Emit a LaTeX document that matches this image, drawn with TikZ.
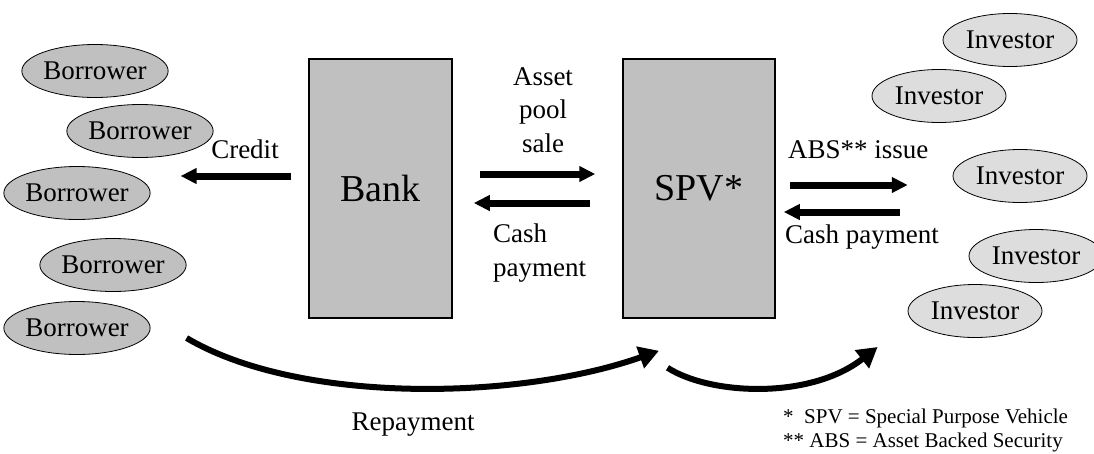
\documentclass[tikz,border=0pt]{standalone}
\usepackage{fontspec}
\setmainfont{Liberation Serif}
\usetikzlibrary{shapes.geometric,arrows.meta}
\definecolor{boxgray}{HTML}{C0C0C0}
\definecolor{lightgray}{HTML}{DDDDDD}

\begin{document}
\begin{tikzpicture}[x=1pt,y=-1pt,
    lbl/.style={inner sep=0pt,font=\fontsize{27}{33.5}\selectfont},
    party/.style={ellipse,draw,line width=0.8pt,minimum width=134pt,minimum height=53pt,
      inner sep=0pt,font=\fontsize{27}{33.5}\selectfont},
    borrower/.style={party,fill=boxgray},
    investor/.style={party,fill=lightgray},
    entity/.style={rectangle,draw,line width=1.5pt,fill=boxgray,minimum height=259pt,
      inner sep=0pt,font=\fontsize{38}{46}\selectfont},
    flow/.style={line width=7pt,-{Triangle[length=16pt,width=15pt]}},
    pay/.style={line width=6pt,-{Triangle[length=20pt,width=22pt]}}]

  \useasboundingbox (0,0) rectangle (1094,453);

  % the two institutions
  \node[entity,minimum width=143pt] (bank) at (380.5,188.5) {Bank};
  \node[entity,minimum width=152pt] (spv) at (699,188.5) {SPV*};

  % borrowers and investors
  \foreach \n/\x/\y in {1/95/71,2/140/131,3/77/193,4/113/265,5/77/328}{
    \node[borrower] (b\n) at (\x,\y) {Borrower};
  }
  \foreach \n/\x/\y in {1/1010/40,2/939/96,3/1020/176,4/1036/256,5/975/311}{
    \node[investor] (i\n) at (\x,\y) {Investor};
  }

  % bank -> borrowers
  \draw[flow] ([shift={(-17,-12.5)}]bank.west) -- ([shift={(30,-17)}]b3.east);
  \node[lbl,anchor=base] (credit) at (245,158) {Credit};

  % bank <-> spv
  \draw[flow] ([shift={(27,-14.5)}]bank.east) -- ([shift={(-27,-14.5)}]spv.west);
  \draw[flow] ([shift={(-32,14.5)}]spv.west) -- ([shift={(21,14.5)}]bank.east);
  \node[lbl,align=center] (sale) at (543,110) {Asset\\pool\\sale};
  \node[lbl,align=left,anchor=west] (cash1) at (493,253) {Cash\\payment};

  % spv <-> investors
  \draw[flow] ([shift={(14,-3.5)}]spv.east) -- ++(118,0);
  \draw[flow] ([shift={(124,23.5)}]spv.east) -- ++(-116,0);
  \node[lbl,anchor=base west] (abs) at (788,158) {ABS** issue};
  \node[lbl,anchor=base west] (cash2) at (785,243) {Cash payment};

  % repayment flow
  \draw[pay] ([shift={(36,10)}]b5.east) .. controls (300,405) and (520,400) .. ([shift={(-40,32)}]spv.south);
  \draw[pay] ([shift={(-31.5,49)}]spv.south) .. controls (710,395) and (810,400) .. ([shift={(-30,36)}]i5.west);
  \node[lbl,anchor=base] (repay) at (413,430) {Repayment};

  \node[inner sep=0pt,align=left,anchor=west,font=\fontsize{21}{24}\selectfont] (notes) at (783,430)
    {*~~SPV = Special Purpose Vehicle\\** ABS = Asset Backed Security};
\end{tikzpicture}
\end{document}
